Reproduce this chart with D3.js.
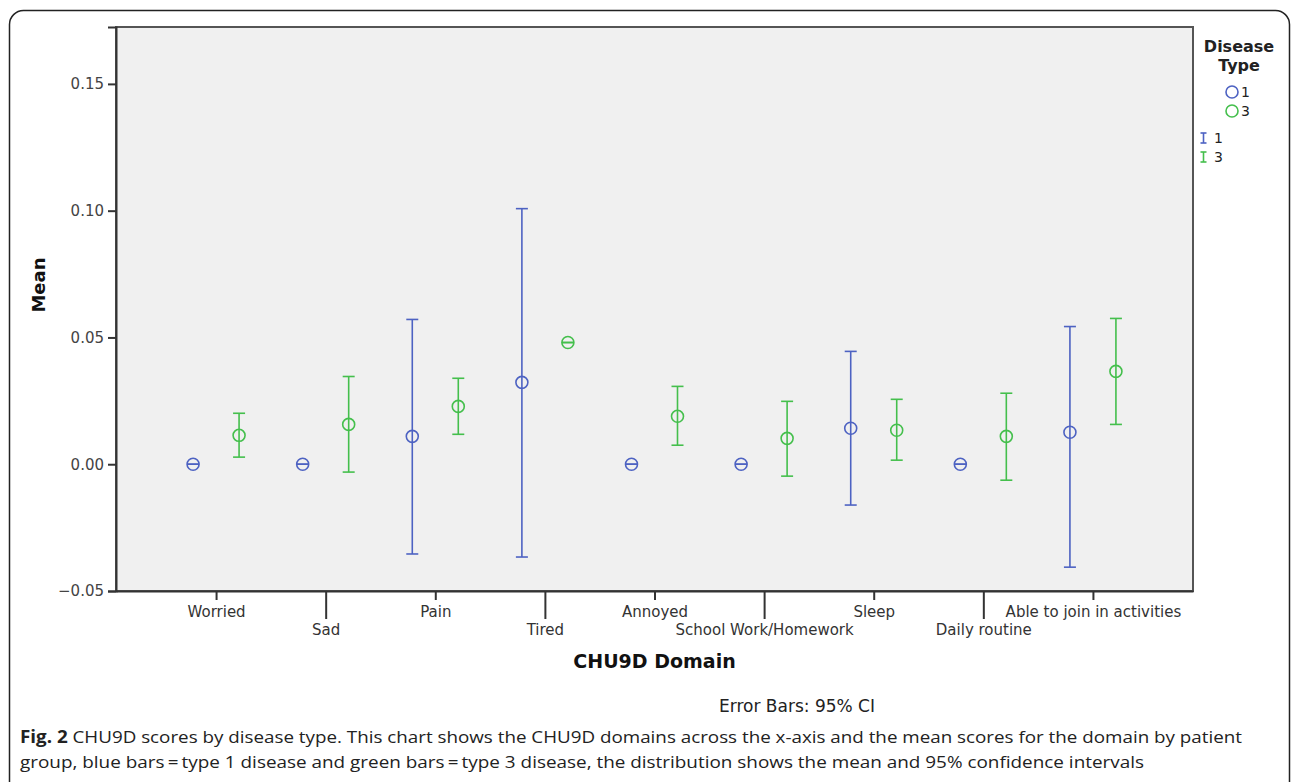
<!DOCTYPE html>
<html>
<head>
<meta charset="utf-8">
<script src="https://d3js.org/d3.v7.min.js"></script>
<style>
    body { margin: 0; background: #fff; }
    svg text { font-family: 'DejaVu Sans', sans-serif; }
</style>
</head>
<body>
<div id="chart-container"></div>
<script>
// CHU9D domain means with 95% CI, by disease type
const domains = ['Worried', 'Sad', 'Pain', 'Tired', 'Annoyed', 'School Work/Homework', 'Sleep', 'Daily routine', 'Able to join in activities'];

const type1Mean  = [0, 0, 0.0110, 0.0323, 0, 0, 0.0142, 0, 0.0126];
const type1Lower = [0, 0, -0.0354, -0.0366, 0, 0, -0.0161, 0, -0.0406];
const type1Upper = [0, 0, 0.0571, 0.1008, 0, 0, 0.0445, 0, 0.0543];

const type3Mean  = [0.0114, 0.0157, 0.0228, 0.0480, 0.0189, 0.0102, 0.0134, 0.0110, 0.0366];
const type3Lower = [0.0028, -0.0031, 0.0118, 0.0480, 0.0075, -0.0047, 0.0016, -0.0063, 0.0157];
const type3Upper = [0.0201, 0.0346, 0.0339, 0.0480, 0.0307, 0.0248, 0.0256, 0.0280, 0.0575];

const yTicks = [-0.05, 0, 0.05, 0.10, 0.15];
const yTickLabels = ['\u22120.05', '0.00', '0.05', '0.10', '0.15'];

const seriesNames = ['1', '3'];
const captionLines = [
    ['Fig. 2', ' CHU9D scores by disease type. This chart shows the CHU9D domains across the x-axis and the mean scores for the domain by patient'],
    ['', 'group, blue bars\u2009=\u2009type 1 disease and green bars\u2009=\u2009type 3 disease, the distribution shows the mean and 95% confidence intervals']
];

class ErrorBarChart {
    constructor() {
        this.width = 1292;
        this.height = 782;
        this.plot = { left: 116, right: 1193, top: 27, bottom: 591 };
        this.colors = { '1': '#4d62c2', '3': '#44bf4c' };
        this.svg = d3.select('#chart-container').append('svg')
            .attr('width', this.width)
            .attr('height', this.height);
        this.render();
    }

    render() {
        const p = this.plot;
        const svg = this.svg;

        // outer figure frame
        svg.append('rect')
            .attr('x', 9.5).attr('y', 10.5)
            .attr('width', 1280).attr('height', 830)
            .attr('rx', 14)
            .attr('fill', 'none')
            .attr('stroke', '#222')
            .attr('stroke-width', 1.5);

        this.x = d3.scalePoint().domain(domains).range([p.left, p.right]).padding(0.913);
        this.y = d3.scaleLinear().domain([-0.05, 0.17244]).range([p.bottom, p.top]);

        svg.append('rect')
            .attr('x', p.left).attr('y', p.top)
            .attr('width', p.right - p.left).attr('height', p.bottom - p.top)
            .attr('fill', '#f0f0f0')
            .attr('stroke', '#555')
            .attr('stroke-width', 2);

        this.drawAxes();
        this.drawSeries(type1Mean, type1Lower, type1Upper, -23, this.colors['1']);
        this.drawSeries(type3Mean, type3Lower, type3Upper, 23, this.colors['3']);
        this.drawLegend();
        this.drawCaption();
    }

    drawAxes() {
        const p = this.plot;
        const svg = this.svg;

        // y axis
        const yAxis = d3.axisLeft(this.y)
            .tickValues(yTicks)
            .tickFormat((d, i) => yTickLabels[i])
            .tickSize(8)
            .tickPadding(4);
        const gy = svg.append('g')
            .attr('transform', `translate(${p.left},0)`)
            .call(yAxis);
        gy.select('.domain').attr('stroke', '#333').attr('stroke-width', 2);
        gy.selectAll('.tick line').attr('stroke', '#333').attr('stroke-width', 2);
        gy.selectAll('.tick text')
            .attr('fill', '#444')
            .style('font-size', '15px')
            .style('font-family', "'DejaVu Sans', sans-serif");

        // x axis, labels staggered on two rows
        const xAxis = d3.axisBottom(this.x).tickSize(0).tickFormat('');
        const gx = svg.append('g')
            .attr('transform', `translate(0,${p.bottom})`)
            .call(xAxis);
        gx.select('.domain').attr('stroke', '#333').attr('stroke-width', 2);

        gx.selectAll('.tick').each(function (d, i) {
            const tick = d3.select(this);
            const low = i % 2 === 1;
            tick.select('line')
                .attr('y2', low ? 28 : 9)
                .attr('stroke', '#333')
                .attr('stroke-width', 2);
            tick.append('text')
                .attr('y', low ? 44 : 26)
                .attr('text-anchor', 'middle')
                .attr('fill', '#333')
                .style('font-size', '15px')
                .text(d);
        });

        svg.append('text')
            .attr('x', (p.left + p.right) / 2)
            .attr('y', 668)
            .attr('text-anchor', 'middle')
            .attr('fill', '#111')
            .style('font-size', '19px')
            .style('font-weight', 'bold')
            .text('CHU9D Domain');

        svg.append('text')
            .attr('transform', 'translate(45,285) rotate(-90)')
            .attr('text-anchor', 'middle')
            .attr('fill', '#111')
            .style('font-size', '18px')
            .style('font-weight', 'bold')
            .text('Mean');

        svg.append('text')
            .attr('x', 797)
            .attr('y', 712)
            .attr('text-anchor', 'middle')
            .attr('fill', '#222')
            .style('font-size', '17px')
            .text('Error Bars: 95% CI');
    }

    drawSeries(means, lower, upper, offset, color) {
        const rows = domains.map((d, i) => ({ name: d, mean: means[i], lo: lower[i], hi: upper[i] }));
        const g = this.svg.append('g')
            .attr('stroke', color)
            .attr('stroke-width', 1.6)
            .attr('fill', 'none');

        const items = g.selectAll('g')
            .data(rows)
            .enter()
            .append('g')
            .attr('transform', d => `translate(${this.x(d.name) + offset},0)`);

        items.append('line')
            .attr('y1', d => this.y(d.lo))
            .attr('y2', d => this.y(d.hi));

        ['lo', 'hi'].forEach(k => {
            items.append('line')
                .attr('x1', -6).attr('x2', 6)
                .attr('y1', d => this.y(d[k]))
                .attr('y2', d => this.y(d[k]));
        });

        items.append('circle')
            .attr('cy', d => this.y(d.mean))
            .attr('r', 6);
    }

    drawLegend() {
        const svg = this.svg;
        const title = svg.append('text')
            .attr('text-anchor', 'middle')
            .attr('fill', '#222')
            .style('font-size', '16px')
            .style('font-weight', 'bold');
        title.append('tspan').attr('x', 1239).attr('y', 52).text('Disease');
        title.append('tspan').attr('x', 1239).attr('y', 71).text('Type');

        seriesNames.forEach((s, i) => {
            const cy = 92 + i * 19;
            svg.append('circle')
                .attr('cx', 1232).attr('cy', cy).attr('r', 6)
                .attr('fill', 'none')
                .attr('stroke', this.colors[s])
                .attr('stroke-width', 1.6);
            svg.append('text')
                .attr('x', 1241).attr('y', cy + 5)
                .attr('fill', '#222')
                .style('font-size', '14px')
                .text(s);

            const ey = 138 + i * 19;
            const eg = svg.append('g')
                .attr('stroke', this.colors[s])
                .attr('stroke-width', 1.6);
            eg.append('line').attr('x1', 1203.5).attr('x2', 1203.5).attr('y1', ey - 5).attr('y2', ey + 5);
            eg.append('line').attr('x1', 1200.5).attr('x2', 1206.5).attr('y1', ey - 5).attr('y2', ey - 5);
            eg.append('line').attr('x1', 1200.5).attr('x2', 1206.5).attr('y1', ey + 5).attr('y2', ey + 5);
            svg.append('text')
                .attr('x', 1214).attr('y', ey + 5)
                .attr('fill', '#222')
                .style('font-size', '14px')
                .text(s);
        });
    }

    drawCaption() {
        const widths = [1222, 1124];
        captionLines.forEach((line, i) => {
            const t = this.svg.append('text')
                .attr('x', 20)
                .attr('y', 743 + i * 25)
                .attr('fill', '#222')
                .attr('textLength', widths[i])
                .attr('lengthAdjust', 'spacingAndGlyphs')
                .style('font-family', "'Open Sans', sans-serif")
                .style('font-size', '17px');
            if (line[0]) t.append('tspan').style('font-weight', 'bold').text(line[0]);
            t.append('tspan').text(line[1]);
        });
    }
}

new ErrorBarChart();
</script>
</body>
</html>
